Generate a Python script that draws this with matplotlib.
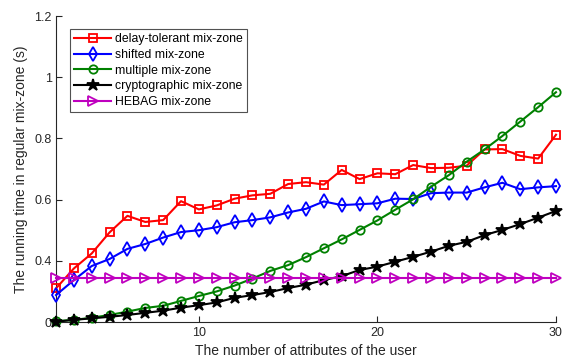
import matplotlib
matplotlib.use("Agg")
import matplotlib.pyplot as plt

# ====== DATA ======
x = list(range(2, 31))

delay_tolerant = [0.310, 0.375, 0.424, 0.493, 0.547, 0.527, 0.533, 0.595, 0.568, 0.581,
                  0.603, 0.614, 0.619, 0.651, 0.657, 0.649, 0.697, 0.667, 0.686, 0.683,
                  0.713, 0.703, 0.704, 0.711, 0.764, 0.765, 0.743, 0.734, 0.812]
shifted = [0.288, 0.337, 0.383, 0.406, 0.439, 0.455, 0.476, 0.494, 0.500, 0.510,
           0.526, 0.533, 0.542, 0.558, 0.570, 0.594, 0.582, 0.585, 0.588, 0.603,
           0.602, 0.621, 0.623, 0.623, 0.640, 0.655, 0.634, 0.640, 0.644]
multiple = [0.203, 0.207, 0.214, 0.223, 0.234, 0.246, 0.253, 0.269, 0.285, 0.300,
            0.319, 0.342, 0.367, 0.386, 0.412, 0.441, 0.470, 0.501, 0.532, 0.567,
            0.601, 0.642, 0.680, 0.724, 0.764, 0.808, 0.855, 0.902, 0.951]
cryptographic = [0.201, 0.207, 0.212, 0.217, 0.223, 0.230, 0.237, 0.247, 0.255, 0.264,
                 0.279, 0.288, 0.298, 0.311, 0.322, 0.337, 0.350, 0.370, 0.381, 0.397,
                 0.413, 0.430, 0.449, 0.462, 0.484, 0.501, 0.520, 0.541, 0.563]
hebag = [0.345] * 29

series = [
    ("delay-tolerant mix-zone", delay_tolerant),
    ("shifted mix-zone", shifted),
    ("multiple mix-zone", multiple),
    ("cryptographic mix-zone", cryptographic),
    ("HEBAG mix-zone", hebag),
]

y_ticks = [0.2, 0.4, 0.6, 0.8, 1.0, 1.2]
y_tick_labels = ["0", "0.4", "0.6", "0.8", "1", "1.2"]
x_ticks = [10, 20, 30]

# ====== STYLE ======
styles = [
    dict(color="#FF0000", marker="s", ms=5.5, mfc="none"),
    dict(color="#0000FF", marker="d", ms=7, mfc="none"),
    dict(color="#008000", marker="o", ms=6, mfc="none"),
    dict(color="#000000", marker="*", ms=9, mfc="#000000"),
    dict(color="#BF00BF", marker=">", ms=6.5, mfc="none"),
]

plt.rcParams["font.family"] = ["Liberation Sans", "DejaVu Sans"]

fig = plt.figure(figsize=(5.64, 3.63), dpi=100)
ax = fig.add_axes([0.0993, 0.1129, 0.8865, 0.843])

for (label, vals), st in zip(series, styles):
    ax.plot(x, vals, label=label, linewidth=1.5, mew=1.3, clip_on=False, zorder=3, **st)

ax.set_xlim(2, 30)
ax.set_ylim(0.2, 1.2)
ax.set_xticks(x_ticks)
ax.set_yticks(y_ticks)
ax.set_yticklabels(y_tick_labels)

ax.spines["top"].set_visible(False)
ax.spines["right"].set_visible(False)
ax.tick_params(direction="in", length=4, width=0.8, labelsize=9, colors="#262626")
ax.tick_params(axis="y", pad=3)
for s in ("left", "bottom"):
    ax.spines[s].set_linewidth(0.8)
    ax.spines[s].set_color("#262626")

ax.set_xlabel("The number of attributes of the user", fontsize=10, color="#262626", labelpad=4)
ax.set_ylabel("The running time in regular mix-zone (s)", fontsize=10, color="#262626", labelpad=5)

leg = ax.legend(loc="upper left", bbox_to_anchor=(0.028, 0.9575), borderaxespad=0,
                fontsize=8.8, frameon=True, fancybox=False, handlelength=3.0,
                handletextpad=0.35, labelspacing=0.3, borderpad=0.35)
leg.get_frame().set_edgecolor("#262626")
leg.get_frame().set_linewidth(0.8)

plt.savefig("out.png", dpi=100)
